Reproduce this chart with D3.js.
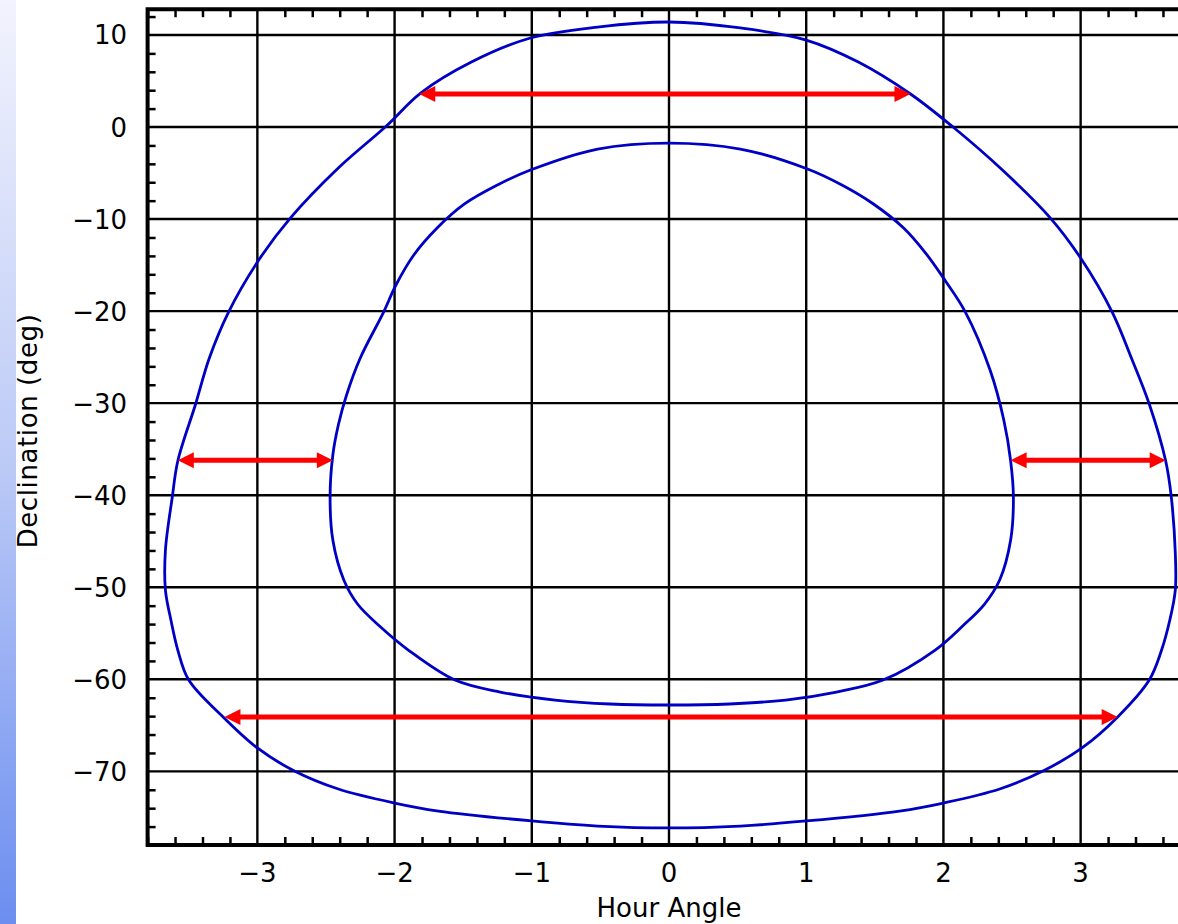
<!DOCTYPE html>
<html>
<head>
<meta charset="utf-8">
<script src="https://cdn.jsdelivr.net/npm/d3@7"></script>
<style>
    html, body { margin: 0; padding: 0; background: #fff; }
    svg { display: block; font-family: "DejaVu Sans", sans-serif; }
</style>
</head>
<body>
<svg id="chart" width="1178" height="924"></svg>
<script>
// outer contour (hour angle, declination), clockwise from the top
var outerHA  = [0.0, 0.52, 1.0, 1.38, 1.76, 2.07, 2.43, 2.78, 3.0, 3.23, 3.37, 3.5, 3.62, 3.66, 3.69, 3.69, 3.65, 3.59, 3.5, 3.27, 3.01, 2.74, 2.41, 2.0, 1.68, 1.0, 0.52,
                0.0, -0.52, -1.0, -1.68, -2.0, -2.41, -2.73, -3.0, -3.25, -3.5, -3.58, -3.63, -3.67, -3.67, -3.62, -3.58, -3.45, -3.35, -3.21, -2.99, -2.76, -2.41, -2.06, -1.81, -1.44, -1.01, -0.52];
var outerDec = [11.41, 10.76, 9.45, 7.06, 3.59, 0.0, -4.67, -9.89, -14.23, -20.1, -25.09, -30.09, -36.28, -40.09, -46.28, -50.3, -53.56, -56.82, -60.08, -64.09, -67.46, -69.85, -71.92, -73.44, -74.31, -75.39, -75.94,
                -76.15, -75.94, -75.39, -74.31, -73.44, -71.92, -69.96, -67.46, -64.09, -60.08, -56.82, -53.56, -50.3, -45.95, -40.19, -36.28, -30.09, -25.09, -20.1, -14.45, -9.89, -4.45, 0.11, 3.69, 7.06, 9.67, 10.86];

// inner contour
var innerHA  = [0.0, 0.52, 1.01, 1.26, 1.49, 1.71, 1.87, 2.01, 2.16, 2.34, 2.44, 2.49, 2.51, 2.49, 2.41, 2.3, 2.14, 1.94, 1.56, 1.22, 0.85, 0.44,
                0.0, -0.43, -0.83, -1.23, -1.56, -1.9, -2.11, -2.27, -2.37, -2.45, -2.47, -2.45, -2.41, -2.35, -2.25, -2.08, -1.99, -1.86, -1.69, -1.49, -1.25, -1.01, -0.52];
var innerDec = [-1.74, -2.39, -4.56, -6.3, -8.36, -10.97, -13.69, -16.62, -20.1, -26.4, -31.83, -36.28, -40.19, -44.87, -49.21, -51.82, -54.21, -56.82, -60.08, -61.38, -62.25, -62.68,
                -62.79, -62.68, -62.25, -61.38, -60.08, -56.82, -54.21, -51.82, -49.21, -44.87, -40.19, -35.63, -32.37, -29.11, -25.09, -20.1, -17.16, -13.9, -10.97, -8.36, -6.3, -4.67, -2.39];

// double-headed red arrows
var arrowDec  = [3.6, -36.2, -36.2, -64.1];
var arrowFrom = [-1.82, -3.58, 2.49, -3.24];
var arrowTo   = [1.76, -2.45, 3.62, 3.27];

var xMajor = [-3, -2, -1, 0, 1, 2, 3];
var yMajor = [10, 0, -10, -20, -30, -40, -50, -60, -70];

var svg = d3.select('#chart');

var defs = svg.append('defs');
var grad = defs.append('linearGradient')
    .attr('id', 'strip')
    .attr('x1', 0).attr('y1', 0).attr('x2', 0).attr('y2', 1);
grad.append('stop').attr('offset', '0%').attr('stop-color', '#f2f3fd');
grad.append('stop').attr('offset', '50%').attr('stop-color', '#bccaf6');
grad.append('stop').attr('offset', '100%').attr('stop-color', '#6c8ef0');

svg.append('rect')
    .attr('x', 0).attr('y', 0)
    .attr('width', 16).attr('height', 924)
    .attr('fill', 'url(#strip)');

var x = d3.scaleLinear().domain([-3.8, 3.8]).range([147.6, 1190.4]);
var y = d3.scaleLinear().domain([-78, 12.8]).range([845, 9.2]);

// grid at the major ticks
svg.append('g').selectAll('line').data(xMajor).enter().append('line')
    .attr('x1', function (d) { return x(d); })
    .attr('x2', function (d) { return x(d); })
    .attr('y1', y(12.8)).attr('y2', y(-78))
    .attr('stroke', '#000').attr('stroke-width', 2.4);

svg.append('g').selectAll('line').data(yMajor).enter().append('line')
    .attr('y1', function (d) { return y(d); })
    .attr('y2', function (d) { return y(d); })
    .attr('x1', x(-3.8)).attr('x2', x(3.8))
    .attr('stroke', '#000').attr('stroke-width', 2.4);

// minor ticks, inward
var xMinor = d3.range(-3.8, 3.81, 0.2).filter(function (v) {
    return Math.abs(v - Math.round(v)) > 0.05;
});
var yMinor = d3.range(-78, 12.9, 2).filter(function (v) { return v % 10 !== 0; });

var bottomAxis = d3.axisTop(x).tickValues(xMinor).tickSize(8).tickFormat('');
var topAxis = d3.axisBottom(x).tickValues(xMinor).tickSize(8).tickFormat('');
var leftAxis = d3.axisRight(y).tickValues(yMinor).tickSize(8).tickFormat('');

[
    [bottomAxis, 'translate(0,' + y(-78) + ')'],
    [topAxis, 'translate(0,' + y(12.8) + ')'],
    [leftAxis, 'translate(' + x(-3.8) + ',0)']
].forEach(function (a) {
    var g = svg.append('g').attr('transform', a[1]).call(a[0]);
    g.select('.domain').remove();
    g.selectAll('line').attr('stroke', '#000').attr('stroke-width', 2.5);
});

// frame
svg.append('path')
    .attr('d', 'M' + x(3.8) + ',' + y(12.8) + 'H' + x(-3.8) + 'V' + y(-78) + 'H' + x(3.8))
    .attr('fill', 'none')
    .attr('stroke', '#000')
    .attr('stroke-width', 4);

// tick labels
svg.append('g').selectAll('text').data(xMajor).enter().append('text')
    .attr('x', function (d) { return x(d); })
    .attr('y', 882)
    .attr('text-anchor', 'middle')
    .attr('font-size', 26)
    .text(function (d) { return d < 0 ? '\u2212' + Math.abs(d) : d; });

svg.append('g').selectAll('text').data(yMajor).enter().append('text')
    .attr('x', 127)
    .attr('y', function (d) { return y(d) + 9.5; })
    .attr('text-anchor', 'end')
    .attr('font-size', 26)
    .text(function (d) { return d < 0 ? '\u2212' + Math.abs(d) : d; });

// axis titles
svg.append('text')
    .attr('x', 669).attr('y', 917)
    .attr('text-anchor', 'middle')
    .attr('font-size', 26)
    .text('Hour Angle');

svg.append('text')
    .attr('transform', 'translate(37,431) rotate(-90)')
    .attr('text-anchor', 'middle')
    .attr('font-size', 26)
    .attr('letter-spacing', 0.6)
    .text('Declination  (deg)');

// contours
var line = d3.line()
    .x(function (d) { return x(d[0]); })
    .y(function (d) { return y(d[1]); })
    .curve(d3.curveCatmullRomClosed.alpha(0.5));

[[outerHA, outerDec], [innerHA, innerDec]].forEach(function (c) {
    svg.append('path')
        .datum(d3.zip(c[0], c[1]))
        .attr('d', line)
        .attr('fill', 'none')
        .attr('stroke', '#0000c4')
        .attr('stroke-width', 2.8);
});

// arrows
var headLen = 16, headHalf = 8;
var arrows = svg.append('g');
arrowDec.forEach(function (dec, i) {
    var x0 = x(arrowFrom[i]), x1 = x(arrowTo[i]), yy = y(dec);
    arrows.append('line')
        .attr('x1', x0 + headLen - 2).attr('x2', x1 - headLen + 2)
        .attr('y1', yy).attr('y2', yy)
        .attr('stroke', '#ff0000')
        .attr('stroke-width', 5);
    arrows.append('path')
        .attr('d', 'M' + x0 + ',' + yy + 'L' + (x0 + headLen) + ',' + (yy - headHalf) +
            'L' + (x0 + headLen) + ',' + (yy + headHalf) + 'Z')
        .attr('fill', '#ff0000');
    arrows.append('path')
        .attr('d', 'M' + x1 + ',' + yy + 'L' + (x1 - headLen) + ',' + (yy - headHalf) +
            'L' + (x1 - headLen) + ',' + (yy + headHalf) + 'Z')
        .attr('fill', '#ff0000');
});
</script>
</body>
</html>
